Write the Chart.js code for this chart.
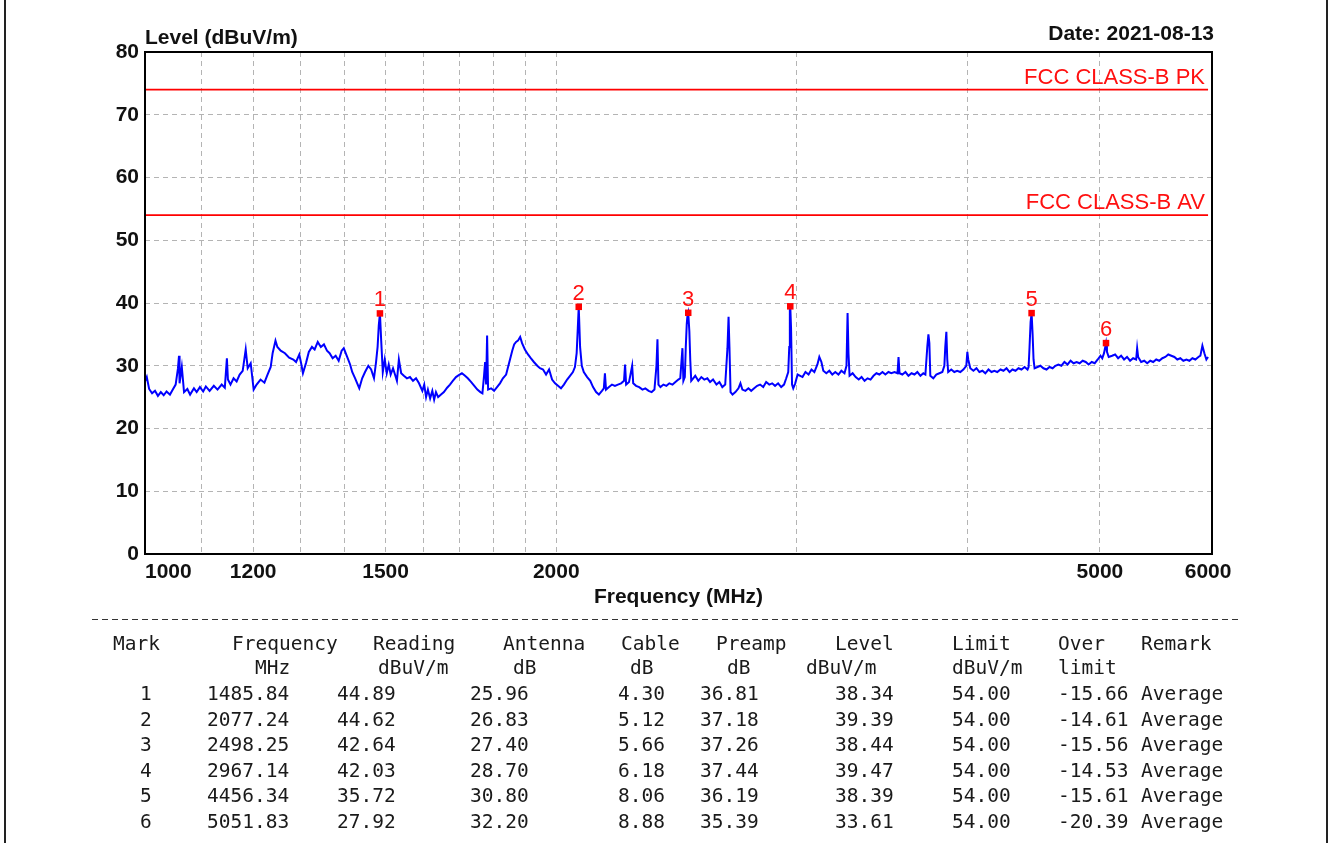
<!DOCTYPE html>
<html>
<head>
<meta charset="utf-8">
<script src="https://cdn.jsdelivr.net/npm/chart.js@4.4.0/dist/chart.umd.min.js"></script>
<style>
    html, body { margin: 0; padding: 0; background: #fff; }
    #wrap { position: relative; width: 1333px; height: 843px; overflow: hidden; }
    #c { position: absolute; left: 0; top: 0; }
    .t { position: absolute; font: bold 21px "Liberation Sans", Arial, sans-serif; color: #111; white-space: pre; line-height: 24px; }
    .m { position: absolute; font: 19.5px "DejaVu Sans Mono", monospace; color: #1a1a1a; white-space: pre; line-height: 20px; }
</style>
</head>
<body>
<div id="wrap">
    <canvas id="c" width="1333" height="843"></canvas>
    <div class="t" style="left:145px;top:25px">Level (dBuV/m)</div>
    <div class="t" style="right:119px;top:21px">Date: 2021-08-13</div>
    <div id="tbl"></div>
</div>
<script>
// ---- data ----
const traceFreq = [
    1000, 1003, 1007, 1012, 1017, 1022, 1027, 1032, 1037, 1043, 1048, 1053, 1057, 1059, 1060, 1064, 1068, 1074, 1079, 1086,
    1091, 1097, 1103, 1108, 1115, 1123, 1130, 1138, 1144, 1148, 1150, 1155, 1161, 1167, 1173, 1179, 1185, 1189, 1195, 1201,
    1207, 1215, 1223, 1229, 1236, 1240, 1246, 1250, 1257, 1266, 1275, 1284, 1290, 1297, 1301, 1305, 1312, 1318, 1325, 1331,
    1338, 1345, 1352, 1359, 1365, 1372, 1379, 1386, 1393, 1398, 1406, 1413, 1418, 1425, 1430, 1435, 1442, 1449, 1457, 1464,
    1471, 1476, 1480, 1483, 1485.84, 1489, 1493, 1498, 1503, 1508, 1513, 1519, 1524, 1529, 1534, 1540, 1547, 1555, 1563, 1571,
    1579, 1587, 1596, 1601, 1606, 1611, 1617, 1623, 1628, 1633, 1639, 1647, 1655, 1664, 1672, 1680, 1689, 1697, 1706, 1715,
    1723, 1733, 1742, 1751, 1760, 1766, 1771, 1774, 1777, 1780, 1783, 1792, 1801, 1810, 1819, 1828, 1838, 1847, 1857, 1863,
    1869, 1875, 1882, 1888, 1897, 1907, 1916, 1926, 1937, 1946, 1956, 1966, 1976, 1986, 1996, 2006, 2016, 2026, 2037, 2047,
    2057, 2064, 2070, 2074, 2077.24, 2082, 2088, 2095, 2107, 2118, 2128, 2139, 2149, 2160, 2167, 2171, 2175, 2186, 2197, 2208,
    2219, 2231, 2242, 2246, 2250, 2261, 2273, 2277, 2288, 2300, 2313, 2324, 2337, 2349, 2360, 2368, 2372, 2376, 2384, 2396,
    2408, 2420, 2433, 2445, 2457, 2465, 2474, 2478, 2484, 2488, 2492, 2495, 2498.25, 2503, 2507, 2511, 2528, 2541, 2554, 2567,
    2580, 2592, 2605, 2620, 2633, 2646, 2659, 2669, 2674, 2678, 2683, 2692, 2705, 2719, 2728, 2737, 2751, 2765, 2778, 2792,
    2806, 2820, 2835, 2849, 2864, 2878, 2892, 2907, 2922, 2936, 2947, 2957, 2962, 2965, 2967.14, 2971, 2976, 2982, 2992, 3004,
    3029, 3044, 3060, 3075, 3090, 3106, 3116, 3127, 3137, 3153, 3169, 3185, 3201, 3218, 3234, 3251, 3262, 3268, 3273, 3279,
    3296, 3313, 3330, 3346, 3363, 3380, 3397, 3414, 3431, 3448, 3466, 3483, 3501, 3518, 3537, 3555, 3561, 3567, 3584, 3603,
    3621, 3640, 3658, 3676, 3695, 3713, 3726, 3738, 3745, 3751, 3757, 3776, 3795, 3815, 3834, 3847, 3853, 3860, 3866, 3872,
    3892, 3912, 3931, 3952, 3972, 3992, 3999, 4005, 4019, 4040, 4061, 4081, 4102, 4122, 4144, 4165, 4185, 4206, 4229, 4250,
    4272, 4294, 4315, 4337, 4359, 4381, 4404, 4426, 4434, 4441, 4449, 4456.34, 4464, 4471, 4479, 4523, 4546, 4570, 4593, 4617,
    4639, 4662, 4686, 4710, 4735, 4759, 4783, 4808, 4832, 4857, 4882, 4906, 4932, 4957, 4982, 5005, 5020, 5035, 5051.83, 5060,
    5075, 5104, 5130, 5156, 5182, 5208, 5234, 5261, 5288, 5315, 5324, 5333, 5360, 5388, 5415, 5443, 5470, 5498, 5526, 5555,
    5583, 5611, 5640, 5669, 5697, 5726, 5755, 5785, 5814, 5844, 5873, 5903, 5923, 5943, 5963, 5983, 6000
];
const traceLevel = [
    27.5, 28.2, 26.3, 25.6, 26.0, 25.2, 25.8, 25.3, 25.9, 25.4, 26.2, 27.0, 29.5, 31.6, 27.2, 29.8, 25.8, 26.3, 25.4, 26.4,
    25.8, 26.6, 25.9, 26.7, 26.0, 26.8, 26.2, 27.0, 26.5, 31.2, 27.8, 27.0, 28.0, 27.5, 28.6, 29.2, 32.6, 29.6, 30.4, 26.2,
    27.0, 27.8, 27.3, 28.5, 29.8, 32.0, 34.0, 33.0, 32.4, 32.0, 31.3, 31.0, 30.6, 31.8, 30.4, 28.8, 30.5, 32.2, 33.0, 32.6,
    33.8, 33.0, 33.4, 32.4, 32.0, 31.2, 31.6, 30.8, 32.4, 32.8, 31.4, 30.2, 29.0, 28.0, 27.2, 26.4, 28.0, 29.0, 30.0, 29.4,
    28.0, 30.5, 33.0, 36.5, 38.34, 34.0, 29.0, 31.0, 28.8, 30.2, 28.6, 29.6, 28.6, 27.6, 31.0, 28.8, 28.4, 28.0, 28.2, 27.6,
    28.0, 27.2, 26.0, 27.0, 25.0, 26.2, 24.8, 26.0, 24.6, 25.8, 25.0, 25.4, 25.8, 26.5, 27.0, 27.6, 28.2, 28.5, 28.8, 28.4,
    28.0, 27.4, 26.8, 26.2, 25.8, 25.6, 28.5, 30.6, 27.0, 34.8, 26.2, 26.4, 26.0, 26.6, 27.2, 28.0, 28.6, 30.4, 32.4, 33.4,
    33.8, 34.0, 34.6, 33.6, 32.6, 31.8, 31.2, 30.6, 30.0, 29.6, 29.4, 28.6, 29.4, 27.8, 27.2, 26.8, 26.4, 27.0, 27.8, 28.4,
    29.0, 29.8, 32.0, 36.0, 39.39, 33.0, 30.0, 29.0, 28.2, 27.6, 26.6, 25.8, 25.4, 26.0, 26.4, 28.8, 26.2, 26.6, 27.0, 26.8,
    27.0, 27.2, 27.6, 30.2, 27.0, 27.4, 30.0, 27.2, 26.8, 26.6, 26.2, 26.4, 26.0, 25.8, 26.2, 30.0, 34.2, 27.0, 26.6, 27.0,
    26.8, 27.2, 27.0, 27.4, 27.8, 28.0, 32.8, 27.6, 28.2, 33.0, 36.6, 38.0, 38.44, 35.5, 30.8, 27.6, 28.4, 27.6, 28.2, 27.8,
    28.0, 27.4, 27.8, 27.0, 27.4, 26.6, 27.0, 32.8, 37.8, 33.0, 25.8, 25.4, 25.8, 26.4, 27.2, 26.2, 26.0, 26.4, 26.0, 26.4,
    26.8, 27.0, 26.6, 27.4, 27.0, 27.2, 26.8, 27.2, 26.6, 27.0, 28.0, 29.0, 33.0, 39.0, 39.47, 36.0, 27.0, 26.4, 27.2, 28.6,
    28.2, 29.0, 28.6, 29.4, 29.0, 30.2, 31.4, 30.6, 29.2, 28.8, 29.2, 28.6, 29.0, 28.6, 29.2, 28.8, 30.0, 38.4, 32.0, 28.4,
    28.8, 28.2, 27.8, 28.2, 27.6, 28.0, 27.8, 28.4, 28.8, 28.6, 29.0, 28.6, 29.0, 28.8, 29.0, 28.8, 31.4, 28.8, 28.6, 29.0,
    28.4, 28.8, 28.6, 29.0, 28.4, 28.8, 28.6, 33.0, 35.0, 33.6, 28.4, 28.0, 28.6, 28.8, 29.0, 30.0, 33.0, 35.4, 31.0, 29.0,
    29.4, 29.0, 29.2, 29.0, 29.4, 30.0, 32.2, 31.0, 29.6, 29.2, 29.6, 29.0, 29.2, 28.8, 29.4, 29.0, 29.2, 29.0, 29.4, 29.2,
    29.6, 29.0, 29.4, 29.2, 29.6, 29.4, 29.8, 29.4, 29.8, 33.0, 37.0, 38.39, 35.0, 31.0, 29.6, 30.0, 29.6, 29.4, 29.8, 29.6,
    30.0, 30.2, 30.0, 30.6, 30.2, 30.8, 30.4, 30.6, 30.4, 30.8, 30.6, 30.2, 30.6, 30.4, 31.0, 31.6, 31.2, 32.0, 33.61, 32.2,
    31.4, 31.6, 31.8, 31.2, 31.6, 31.0, 31.4, 30.8, 31.2, 31.0, 32.8, 31.4, 30.6, 30.8, 30.4, 30.8, 30.6, 31.0, 30.8, 31.2,
    31.4, 31.8, 31.6, 31.4, 31.0, 31.2, 30.8, 31.0, 30.8, 31.2, 31.0, 31.4, 31.6, 33.2, 32.0, 31.0, 31.4
];

const limitFreq = [1000, 6000];
const limitPk = [74, 74];
const limitAv = [54, 54];
const limitPkName = 'FCC CLASS-B PK';
const limitAvName = 'FCC CLASS-B AV';

const markNo = [1, 2, 3, 4, 5, 6];
const markFreq = [1485.84, 2077.24, 2498.25, 2967.14, 4456.34, 5051.83];
const markReading = [44.89, 44.62, 42.64, 42.03, 35.72, 27.92];
const markAntenna = [25.96, 26.83, 27.40, 28.70, 30.80, 32.20];
const markCable = [4.30, 5.12, 5.66, 6.18, 8.06, 8.88];
const markPreamp = [36.81, 37.18, 37.26, 37.44, 36.19, 35.39];
const markLevel = [38.34, 39.39, 38.44, 39.47, 38.39, 33.61];
const markLimit = [54.00, 54.00, 54.00, 54.00, 54.00, 54.00];
const markOver = [-15.66, -14.61, -15.56, -14.53, -15.61, -20.39];
const markRemark = ['Average', 'Average', 'Average', 'Average', 'Average', 'Average'];

const gridFreqs = [1000, 1100, 1200, 1300, 1400, 1500, 1600, 1700, 1800, 1900, 2000, 3000, 4000, 5000, 6000];
const labelFreqs = [1000, 1200, 1500, 2000, 5000, 6000];
const xMin = 1000, xMax = 6040;
const yMin = 0, yMax = 80, yStep = 10;

const headTop = ['Mark', 'Frequency', 'Reading', 'Antenna', 'Cable', 'Preamp', 'Level', 'Limit', 'Over', 'Remark'];
const headSub = ['MHz', 'dBuV/m', 'dB', 'dB', 'dB', 'dBuV/m', 'dBuV/m', 'limit'];

// ---- table under the chart ----
(function buildTable() {
    const tbl = document.getElementById('tbl');
    const put = (txt, x, cy) => {
        const d = document.createElement('div');
        d.className = 'm';
        d.textContent = txt;
        d.style.left = x + 'px';
        d.style.top = (cy - 10) + 'px';
        tbl.appendChild(d);
    };
    const topX = [113, 232, 373, 503, 621, 716, 835, 952, 1058, 1141];
    const subX = [255, 378, 513, 630, 727, 806, 952, 1058];
    const colX = [140, 207, 337, 470, 618, 700, 835, 952, 1058, 1141];
    const rowY = [694, 719.5, 745, 770.5, 796, 821.5];
    headTop.forEach((h, i) => put(h, topX[i], 644));
    headSub.forEach((h, i) => put(h, subX[i], 668));
    const f2 = v => v.toFixed(2);
    markNo.forEach((n, i) => {
        const cells = [String(n), f2(markFreq[i]), f2(markReading[i]), f2(markAntenna[i]), f2(markCable[i]),
            f2(markPreamp[i]), f2(markLevel[i]), f2(markLimit[i]), f2(markOver[i]), markRemark[i]];
        cells.forEach((c, j) => put(c, colX[j], rowY[i]));
    });
})();

// ---- chart ----
const overlay = {
    id: 'overlay',
    afterDatasetsDraw(chart) {
        const { ctx, chartArea: a, scales: { x, y } } = chart;
        ctx.save();
        ctx.setLineDash([]);
        ctx.strokeStyle = '#000';
        ctx.lineWidth = 2;
        ctx.strokeRect(a.left, a.top, a.right - a.left, a.bottom - a.top);

        // marker numbers
        ctx.fillStyle = '#ff1010';
        ctx.font = '22px "Liberation Sans", Arial, sans-serif';
        ctx.textAlign = 'center';
        ctx.textBaseline = 'alphabetic';
        markNo.forEach((n, i) => {
            ctx.fillText(String(n), x.getPixelForValue(markFreq[i]), y.getPixelForValue(markLevel[i]) - 7);
        });

        // limit names
        ctx.textAlign = 'right';
        ctx.fillText(limitPkName, a.right - 7, y.getPixelForValue(limitPk[0]) - 6);
        ctx.fillText(limitAvName, a.right - 7, y.getPixelForValue(limitAv[0]) - 6);

        // dashed separator + page edges
        ctx.strokeStyle = '#333';
        ctx.lineWidth = 1;
        ctx.setLineDash([6, 4]);
        ctx.beginPath(); ctx.moveTo(92, 619.5); ctx.lineTo(1242, 619.5); ctx.stroke();
        ctx.setLineDash([]);
        ctx.lineWidth = 2;
        ctx.strokeStyle = '#222';
        ctx.beginPath(); ctx.moveTo(5, 0); ctx.lineTo(5, 843); ctx.stroke();
        ctx.beginPath(); ctx.moveTo(1327, 0); ctx.lineTo(1327, 843); ctx.stroke();
        ctx.restore();
    }
};

const gridColor = (c) => {
    const v = c.tick ? c.tick.value : null;
    if (c.scale.axis === 'x' && (v === xMin || v >= 6000)) return 'rgba(0,0,0,0)';
    if (c.scale.axis === 'y' && (v === yMin || v === yMax)) return 'rgba(0,0,0,0)';
    return '#b4b4b4';
};

const tickFont = { family: '"Liberation Sans", Arial, sans-serif', size: 21, weight: 'bold' };

new Chart(document.getElementById('c'), {
    type: 'line',
    data: {
        datasets: [
            {
                label: 'trace',
                data: traceFreq.map((f, i) => ({ x: f, y: traceLevel[i] })),
                borderColor: '#0000ff', borderWidth: 2, pointRadius: 0, tension: 0, order: 2
            },
            {
                label: limitPkName,
                data: limitFreq.map((f, i) => ({ x: f, y: limitPk[i] })),
                borderColor: '#ff0000', borderWidth: 1.6, pointRadius: 0, order: 3
            },
            {
                label: limitAvName,
                data: limitFreq.map((f, i) => ({ x: f, y: limitAv[i] })),
                borderColor: '#ff0000', borderWidth: 1.6, pointRadius: 0, order: 3
            },
            {
                label: 'marks',
                data: markFreq.map((f, i) => ({ x: f, y: markLevel[i] })),
                showLine: false, pointStyle: 'rect', pointRadius: 4.6,
                backgroundColor: '#ff0000', borderColor: '#ff0000', borderWidth: 0, order: 1
            }
        ]
    },
    options: {
        responsive: false,
        animation: false,
        events: [],
        layout: { padding: { left: 95, top: 52, right: 121, bottom: 229 } },
        plugins: { legend: { display: false }, tooltip: { enabled: false } },
        scales: {
            x: {
                type: 'logarithmic',
                min: xMin, max: xMax,
                afterBuildTicks: (s) => { s.ticks = gridFreqs.concat([xMax]).map(v => ({ value: v })); },
                afterFit: (s) => { s.height = 60; s.paddingLeft = 0; s.paddingRight = 0; },
                ticks: {
                    autoSkip: false, maxRotation: 0, align: 'inner', padding: 6,
                    color: '#111', font: tickFont,
                    callback: (v) => labelFreqs.includes(v) ? String(v) : ''
                },
                grid: { color: gridColor, drawTicks: false, lineWidth: 1 },
                border: { display: false, dash: [5, 4] },
                title: {
                    display: true, text: 'Frequency (MHz)', color: '#111',
                    font: tickFont, padding: { top: 0, bottom: 4 }
                }
            },
            y: {
                min: yMin, max: yMax,
                afterBuildTicks: (s) => {
                    const t = [];
                    for (let v = yMin; v <= yMax; v += yStep) t.push({ value: v });
                    s.ticks = t;
                },
                afterFit: (s) => { s.width = 50; s.paddingTop = 0; s.paddingBottom = 0; },
                ticks: { padding: 6, color: '#111', font: tickFont },
                grid: { color: gridColor, drawTicks: false, lineWidth: 1 },
                border: { display: false, dash: [5, 4] }
            }
        }
    },
    plugins: [overlay]
});
</script>
</body>
</html>
